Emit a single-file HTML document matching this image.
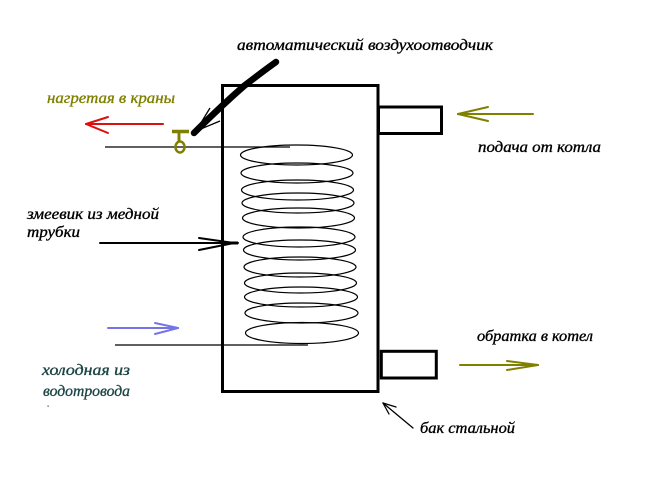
<!DOCTYPE html>
<html>
<head>
<meta charset="utf-8">
<style>
  html,body{margin:0;padding:0;background:#fff;}
  svg{display:block;}
  text{font-family:"Liberation Serif","DejaVu Serif",serif;font-style:italic;font-size:16px;stroke-width:0.35px;}
</style>
</head>
<body>
<svg width="661" height="499" viewBox="0 0 661 499" xmlns="http://www.w3.org/2000/svg">
  <rect x="0" y="0" width="661" height="499" fill="#fff"/>

  <!-- thin pipe lines -->
  <line x1="105" y1="147" x2="290" y2="147" stroke="#000" stroke-width="1.2"/>
  <line x1="115" y1="345" x2="308" y2="345" stroke="#000" stroke-width="1.2"/>

  <!-- coil -->
  <g fill="none" stroke="#000" stroke-width="1.2">
    <ellipse cx="296.5" cy="155" rx="56" ry="10"/>
    <ellipse cx="297" cy="173" rx="56" ry="10"/>
    <ellipse cx="297.5" cy="190" rx="56" ry="10"/>
    <ellipse cx="298" cy="203" rx="56" ry="10"/>
    <ellipse cx="298.5" cy="218" rx="56" ry="10"/>
    <ellipse cx="299" cy="237" rx="56" ry="10"/>
    <ellipse cx="299.5" cy="250" rx="56" ry="10"/>
    <ellipse cx="300" cy="267" rx="56" ry="10"/>
    <ellipse cx="300.5" cy="283" rx="56" ry="10"/>
    <ellipse cx="301" cy="297" rx="56.5" ry="10"/>
    <ellipse cx="301.5" cy="313" rx="56.5" ry="10"/>
    <ellipse cx="302" cy="333" rx="56.5" ry="10.5"/>
  </g>

  <!-- tank -->
  <rect x="222.5" y="85.5" width="155.5" height="306" fill="none" stroke="#000" stroke-width="3"/>
  <!-- upper pipe stub -->
  <rect x="378.5" y="107" width="63" height="26.5" fill="none" stroke="#000" stroke-width="3"/>
  <!-- lower pipe stub -->
  <rect x="381.3" y="351.3" width="55" height="26.7" fill="none" stroke="#000" stroke-width="3"/>

  <!-- thick black arrow to air vent -->
  <path d="M276 62 Q262 72 244 86 Q220 107 194 133" fill="none" stroke="#000" stroke-width="6.5" stroke-linecap="round"/>
  <line x1="196" y1="131" x2="210" y2="108" stroke="#000" stroke-width="1.3"/>
  <line x1="196" y1="131" x2="220" y2="121" stroke="#000" stroke-width="1.3"/>

  <!-- red arrow -->
  <g stroke="#dd1010" stroke-width="2" fill="none" stroke-linecap="round">
    <line x1="86" y1="124" x2="163" y2="124"/>
    <line x1="86" y1="124" x2="108" y2="117"/>
    <line x1="86" y1="124" x2="108" y2="133"/>
  </g>

  <!-- valve -->
  <g stroke="#808000" fill="none">
    <line x1="172" y1="131.5" x2="189" y2="131.5" stroke-width="3.5"/>
    <line x1="179" y1="132" x2="179" y2="141" stroke-width="3"/>
    <ellipse cx="180" cy="147" rx="4.5" ry="5.5" stroke-width="2.5"/>
  </g>

  <!-- olive arrows -->
  <g stroke="#808000" stroke-width="2" fill="none" stroke-linecap="round">
    <line x1="458" y1="114" x2="533" y2="114"/>
    <line x1="458" y1="114" x2="488" y2="107"/>
    <line x1="458" y1="114" x2="488" y2="121"/>
    <line x1="460" y1="365" x2="538" y2="365"/>
    <line x1="538" y1="365" x2="507" y2="361"/>
    <line x1="538" y1="365" x2="507" y2="370"/>
  </g>

  <!-- blue arrow -->
  <g stroke="#7474e8" stroke-width="2" fill="none" stroke-linecap="round">
    <line x1="108" y1="328" x2="178" y2="328"/>
    <line x1="178" y1="328" x2="155" y2="323"/>
    <line x1="178" y1="328" x2="155" y2="334"/>
  </g>

  <!-- coil arrow -->
  <g stroke="#000" stroke-width="2" fill="none" stroke-linecap="round">
    <line x1="100" y1="243" x2="238" y2="243"/>
    <line x1="234" y1="243" x2="199" y2="238"/>
    <line x1="234" y1="243" x2="199" y2="250"/>
  </g>
  <line x1="222" y1="243" x2="238" y2="243" stroke="#000" stroke-width="3"/>

  <!-- tank label arrow -->
  <g stroke="#000" stroke-width="1.3" fill="none" stroke-linecap="round">
    <line x1="383" y1="403" x2="413" y2="428"/>
    <line x1="383" y1="403" x2="396" y2="407"/>
    <line x1="383" y1="403" x2="389" y2="414"/>
  </g>

  <!-- dot -->
  <rect x="47.5" y="405.5" width="1.2" height="1.2" fill="#333"/>

  <!-- labels -->
  <text x="237" y="50" textLength="256" lengthAdjust="spacingAndGlyphs" fill="#000" stroke="#000">автоматический  воздухоотводчик</text>
  <text x="47" y="103" textLength="128" lengthAdjust="spacingAndGlyphs" fill="#808000" stroke="#808000">нагретая в краны</text>
  <text x="478" y="152" textLength="123" lengthAdjust="spacingAndGlyphs" fill="#000" stroke="#000">подача от котла</text>
  <text x="27" y="219" textLength="132" lengthAdjust="spacingAndGlyphs" fill="#000" stroke="#000">змеевик из медной</text>
  <text x="27" y="237" textLength="53" lengthAdjust="spacingAndGlyphs" fill="#000" stroke="#000">трубки</text>
  <text x="42" y="375" textLength="88" lengthAdjust="spacingAndGlyphs" fill="#1d4545" stroke="#1d4545">холодная из</text>
  <text x="43" y="396" textLength="87" lengthAdjust="spacingAndGlyphs" fill="#1d4545" stroke="#1d4545">водотровода</text>
  <text x="477" y="341" textLength="116" lengthAdjust="spacingAndGlyphs" fill="#000" stroke="#000">обратка в котел</text>
  <text x="420" y="433" textLength="95" lengthAdjust="spacingAndGlyphs" fill="#000" stroke="#000">бак стальной</text>
</svg>
</body>
</html>
